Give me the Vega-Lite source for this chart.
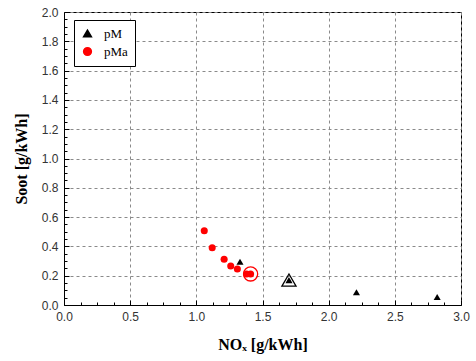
{
  "$schema": "https://vega.github.io/schema/vega-lite/v6.json",
  "width": 397,
  "height": 293,
  "autosize": {"type": "none"},
  "padding": {"left": 64, "top": 12, "right": 15, "bottom": 56},
  "background": "white",
  "config": {
    "view": {"stroke": "black", "strokeWidth": 1},
    "axis": {
      "labelFont": "Liberation Sans",
      "labelFontSize": 12,
      "labelColor": "#333333",
      "labelFlush": false,
      "titleFont": "Liberation Serif",
      "titleFontWeight": "bold",
      "titleFontSize": 16,
      "titleColor": "black",
      "domainColor": "black",
      "tickColor": "black",
      "gridColor": "#8a8a8a",
      "gridDash": [3, 3],
      "gridWidth": 1
    }
  },
  "datasets": {
    "pts": [
      {"series": "pM", "nox": 1.33, "soot": 0.295, "marked": "no"},
      {"series": "pM", "nox": 1.70, "soot": 0.17, "marked": "yes"},
      {"series": "pM", "nox": 2.21, "soot": 0.087, "marked": "no"},
      {"series": "pM", "nox": 2.82, "soot": 0.055, "marked": "no"},
      {"series": "pMa", "nox": 1.06, "soot": 0.507, "marked": "no"},
      {"series": "pMa", "nox": 1.12, "soot": 0.391, "marked": "no"},
      {"series": "pMa", "nox": 1.21, "soot": 0.312, "marked": "no"},
      {"series": "pMa", "nox": 1.26, "soot": 0.266, "marked": "no"},
      {"series": "pMa", "nox": 1.31, "soot": 0.246, "marked": "no"},
      {"series": "pMa", "nox": 1.38, "soot": 0.212, "marked": "no"},
      {"series": "pMa", "nox": 1.41, "soot": 0.212, "marked": "yes"}
    ]
  },
  "data": {"name": "pts"},
  "layer": [
    {
      "mark": {"type": "point", "opacity": 0},
      "encoding": {
        "x": {"field": "nox", "type": "quantitative", "scale": {"domain": [0, 3], "nice": false, "zero": false},
          "axis": {"orient": "bottom", "values": [0.125,0.25,0.375,0.625,0.75,0.875,1.125,1.25,1.375,1.625,1.75,1.875,2.125,2.25,2.375,2.625,2.75,2.875], "labels": false, "domain": false, "grid": false, "tickSize": -3, "title": null}},
        "y": {"field": "soot", "type": "quantitative", "scale": {"domain": [0, 2], "nice": false, "zero": false},
          "axis": {"orient": "left", "values": [0.05,0.1,0.15,0.25,0.3,0.35,0.45,0.5,0.55,0.65,0.7,0.75,0.85,0.9,0.95,1.05,1.1,1.15,1.25,1.3,1.35,1.45,1.5,1.55,1.65,1.7,1.75,1.85,1.9,1.95], "labels": false, "domain": false, "grid": false, "tickSize": -3, "title": null}}
      }
    },
    {
      "mark": {"type": "point", "filled": true, "opacity": 1},
      "encoding": {
        "x": {"field": "nox", "type": "quantitative",
          "axis": {"orient": "bottom", "values": [0, 0.5, 1, 1.5, 2, 2.5, 3], "format": ".1f", "grid": true, "tickSize": -5, "labelPadding": 11, "title": "NOₓ [g/kWh]", "titlePadding": 14}},
        "y": {"field": "soot", "type": "quantitative",
          "axis": {"orient": "left", "values": [0, 0.2, 0.4, 0.6, 0.8, 1, 1.2, 1.4, 1.6, 1.8, 2], "format": ".1f", "grid": true, "tickSize": -5, "labelPadding": 11, "title": "Soot [g/kWh]", "titlePadding": 12}},
        "color": {"field": "series", "type": "nominal", "scale": {"domain": ["pM", "pMa"], "range": ["black", "#ff0000"]},
          "legend": {"orient": "none", "legendX": 10, "legendY": 8, "title": null, "strokeColor": "black", "fillColor": "white", "padding": 7, "labelFont": "Liberation Serif", "labelFontSize": 13, "labelColor": "black", "symbolSize": 60, "rowPadding": 3, "labelOffset": 10}},
        "shape": {"field": "series", "type": "nominal", "scale": {"domain": ["pM", "pMa"], "range": ["triangle-up", "circle"]}},
        "size": {"value": 50}
      }
    },
    {
      "transform": [{"filter": "datum.marked == 'yes'"}],
      "mark": {"type": "point", "filled": false, "strokeWidth": 1.3, "opacity": 1},
      "encoding": {
        "x": {"field": "nox", "type": "quantitative", "axis": null},
        "y": {"field": "soot", "type": "quantitative", "axis": null},
        "color": {"field": "series", "type": "nominal", "legend": null},
        "shape": {"field": "series", "type": "nominal", "legend": null},
        "size": {"value": 200}
      }
    }
  ],
  "resolve": {"axis": {"x": "independent", "y": "independent"}}
}
